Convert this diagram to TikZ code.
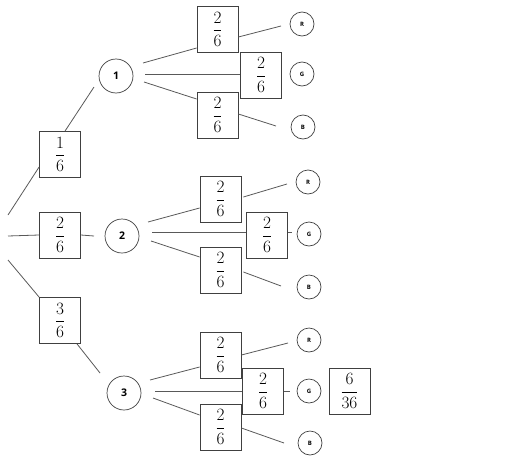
\documentclass[tikz,border=0pt]{standalone}
\usepackage{fontspec}
\newfontfamily\lblfont{Open Sans}
\begin{document}
\begin{tikzpicture}[x=1pt,y=-1pt,
  frac/.style={draw=black!75, line width=0.8pt, minimum width=41pt, minimum height=46pt, inner sep=0pt, font=\fontsize{16}{16}\selectfont},
  big/.style={circle, draw=black!75, line width=0.7pt, minimum size=34pt, inner sep=0pt, font=\lblfont\bfseries\fontsize{10.5}{10.5}\selectfont},
  small/.style={circle, draw=black!75, line width=0.7pt, minimum size=24pt, inner sep=0pt, font=\lblfont\bfseries\fontsize{6}{6}\selectfont},
  con/.style={draw=black!65, line width=0.8pt}]
\useasboundingbox (0,0) rectangle (505,463);
% first level
\node[frac] (a) at (60,154.5) {$\displaystyle\frac{1}{6}$};
\node[frac] (b) at (60,235) {$\displaystyle\frac{2}{6}$};
\node[frac] (c) at (60,320.5) {$\displaystyle\frac{3}{6}$};
\node[big] (c1) at (116,76) {1};
\node[big] (c2) at (122,236) {2};
\node[big] (c3) at (124,393) {3};
% group 1
\node[frac] (r1) at (217.5,29.5) {$\displaystyle\frac{2}{6}$};
\node[frac] (g1) at (261,75) {$\displaystyle\frac{2}{6}$};
\node[frac] (b1) at (217.5,115) {$\displaystyle\frac{2}{6}$};
\node[small] (R1) at (302,24) {R};
\node[small] (G1) at (302,74) {G};
\node[small] (B1) at (303,127) {B};
% group 2
\node[frac] (r2) at (220.5,199) {$\displaystyle\frac{2}{6}$};
\node[frac] (g2) at (267,235) {$\displaystyle\frac{2}{6}$};
\node[frac] (b2) at (220.5,270) {$\displaystyle\frac{2}{6}$};
\node[small] (R2) at (308,182) {R};
\node[small] (G2) at (309,234) {G};
\node[small] (B2) at (309,287) {B};
% group 3
\node[frac] (r3) at (220.5,355) {$\displaystyle\frac{2}{6}$};
\node[frac] (g3) at (263,391) {$\displaystyle\frac{2}{6}$};
\node[frac] (b3) at (220.5,427) {$\displaystyle\frac{2}{6}$};
\node[small] (R3) at (309,340) {R};
\node[small] (G3) at (309,391) {G};
\node[small] (B3) at (310,443) {B};
\node[frac] (p) at (349.5,391) {$\displaystyle\frac{6}{36}$};
% free ends
\coordinate (o1) at (8,215);
\coordinate (o2) at (8,236);
\coordinate (o3) at (8,260);
\coordinate (e1) at (94,87);
\coordinate (e2) at (94,236);
\coordinate (e3) at (100,373);
\coordinate (s1a) at (143,63);
\coordinate (s1b) at (145,74);
\coordinate (s1c) at (144,82);
\coordinate (t1a) at (281,26);
\coordinate (t1c) at (276,126);
\coordinate (s2a) at (148,222);
\coordinate (s2b) at (152,232);
\coordinate (s2c) at (151,241);
\coordinate (t2a) at (287,184);
\coordinate (t2b) at (292,232);
\coordinate (t2c) at (281,286);
\coordinate (s3a) at (150,380);
\coordinate (s3b) at (155,391);
\coordinate (s3c) at (153,398);
\coordinate (t3a) at (288,343);
\coordinate (t3b) at (290,391);
\coordinate (t3c) at (284,443);
% connectors
\draw[con] (o1) -- (a.west |- 0,167);
\draw[con] (o2) -- (b.west);
\draw[con] (o3) -- (c.north west);
\draw[con] ([xshift=5pt]a.north) -- (e1);
\draw[con] (b.east) -- (e2);
\draw[con] ([xshift=17pt]c.south) -- (e3);
\draw[con] (s1a) -- (r1.west |- 0,48);
\draw[con] (s1b) -- (g1.west |- s1b);
\draw[con] (s1c) -- (b1.west |- 0,99);
\draw[con] (r1.east |- 0,37) -- (t1a);
\draw[con] (b1.east |- 0,114) -- (t1c);
\draw[con] (s2a) -- (r2.west |- 0,208);
\draw[con] (s2b) -- (g2.west |- s2b);
\draw[con] (s2c) -- (b2.west |- 0,257);
\draw[con] ([xshift=2pt]r2.east |- 0,197) -- (t2a);
\draw[con] (g2.east |- t2b) -- (t2b);
\draw[con] ([xshift=2pt]b2.east |- 0,272) -- (t2c);
\draw[con] (s3a) -- (r3.west |- 0,367);
\draw[con] (s3b) -- (g3.west |- s3b);
\draw[con] (s3c) -- (b3.west |- 0,415);
\draw[con] (r3.east |- 0,355) -- (t3a);
\draw[con] (g3.east |- t3b) -- (t3b);
\draw[con] (b3.east |- 0,428) -- (t3c);
\end{tikzpicture}
\end{document}
